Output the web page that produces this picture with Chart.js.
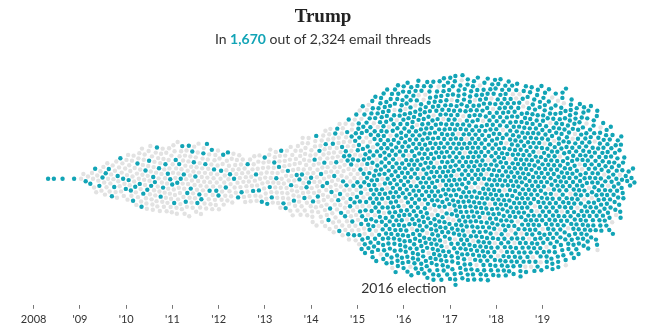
<!DOCTYPE html>
<html>
<head>
<meta charset="utf-8">
<script src="https://cdn.jsdelivr.net/npm/chart.js@4/dist/chart.umd.min.js"></script>
<style>
  body { margin: 0; background: #fff; }
  #wrap { position: relative; width: 646px; height: 334px; }
  #title { position: absolute; left: 0; top: 5px; width: 646px; text-align: center;
    font: bold 19px "Liberation Serif", serif; color: #222; line-height: 22px; }
  #sub { position: absolute; left: 0; top: 30px; width: 646px; text-align: center;
    font: 14px Lato, sans-serif; color: #333; line-height: 17px; }
  #sub b { color: #12a4b6; }
  canvas { position: absolute; left: 0; top: 0; }
</style>
</head>
<body>
<div id="wrap">
  <canvas id="myChart" width="646" height="334"></canvas>
  <div id="title">Trump</div>
  <div id="sub">In <b id="nTrump"></b> out of <span id="nAll"></span> email threads</div>
</div>
<script>
// threads per quarter, starting with 2008 Q1
var firstYear = 2008;
var totalThreads = [
  0, 2, 1, 1,      // 2008
  5, 11, 15, 17,   // 2009
  21, 26, 28, 29,  // 2010
  30, 30, 29, 26,  // 2011
  22, 20, 19, 20,  // 2012
  23, 26, 29, 33,  // 2013
  36, 42, 46, 52,  // 2014
  61, 67, 72, 77,  // 2015
  80, 82, 84, 86,  // 2016
  86, 87, 86, 84,  // 2017
  84, 82, 80, 77,  // 2018
  74, 71, 66, 61,  // 2019
  53, 44, 33, 8    // 2020
];
var trumpThreads = [
  0, 2, 1, 1,
  2, 3, 4, 4,
  5, 6, 6, 5,
  7, 7, 6, 5,
  5, 3, 2, 4,
  5, 5, 4, 5,
  7, 8, 12, 20,
  40, 55, 65, 72,
  73, 75, 77, 79,
  79, 80, 79, 77,
  77, 75, 74, 71,
  68, 65, 61, 56,
  49, 41, 30, 8
];
var tickYears = [2008, 2009, 2010, 2011, 2012, 2013, 2014, 2015, 2016, 2017, 2018, 2019];
var tickLabels = ["2008", "'09", "'10", "'11", "'12", "'13", "'14", "'15", "'16", "'17", "'18", "'19"];
var noteYear = 2016;
var noteText = "2016 election";

var teal = "#12a4b6";
var grey = "#e2e2e2";

function fmt(n) { return n.toLocaleString("en-US"); }
function sum(a) { return a.reduce(function (s, v) { return s + v; }, 0); }
document.getElementById("nTrump").textContent = fmt(sum(trumpThreads));
document.getElementById("nAll").textContent = fmt(sum(totalThreads));

var notePlugin = {
  id: "note",
  afterDatasetsDraw: function (chart) {
    var c = chart.ctx;
    c.save();
    c.font = "14px Lato, sans-serif";
    c.fillStyle = "#333";
    c.textAlign = "center";
    c.textBaseline = "middle";
    c.fillText(noteText, chart.scales.x.getPixelForValue(noteYear), 288);
    c.restore();
  }
};

const ctx = document.getElementById("myChart");
var chart = new Chart(ctx, {
  type: "scatter",
  data: {
    datasets: [
      { label: "Trump", data: [], backgroundColor: teal, pointRadius: 2.2, borderWidth: 0 },
      { label: "Other", data: [], backgroundColor: grey, pointRadius: 2.2, borderWidth: 0 }
    ]
  },
  options: {
    responsive: false,
    devicePixelRatio: 1,
    animation: false,
    events: [],
    layout: { padding: { left: 0, right: 0, top: 0, bottom: 4 } },
    plugins: { legend: { display: false }, tooltip: { enabled: false } },
    scales: {
      x: {
        type: "linear",
        min: 2008 - 30 / 46.85,
        max: 2008 + 616 / 46.85,
        afterBuildTicks: function (scale) {
          scale.ticks = tickYears.map(function (v) { return { value: v }; });
        },
        ticks: {
          autoSkip: false,
          maxRotation: 0,
          padding: 4,
          color: "#333",
          font: { family: "Lato", size: 11 },
          callback: function (value, index) { return tickLabels[index]; }
        },
        grid: { drawOnChartArea: false, tickLength: 4, tickColor: "#777" },
        border: { display: false }
      },
      y: { display: false, min: 0, max: 100 }
    }
  },
  plugins: [notePlugin]
});

// beeswarm: place each thread as close to the middle line as it can go
var xs = chart.scales.x, ys = chart.scales.y;
var centerY = 177, D = 5.35;
var pts = [];
for (var q = 0; q < totalThreads.length; q++) {
  var n = totalThreads[q], t = trumpThreads[q];
  for (var k = 0; k < n; k++) {
    var date = firstYear + q / 4 + (k + 0.5) / n / 4;
    var isT = Math.floor((k + 1) * t / n) > Math.floor(k * t / n);
    pts.push({ date: date, teal: isT, px: xs.getPixelForValue(date), dy: 0 });
  }
}
var placed = [];
pts.forEach(function (p) {
  var ivs = [];
  for (var j = placed.length - 1; j >= 0; j--) {
    var o = placed[j];
    var dx = p.px - o.px;
    if (dx >= D) break;
    var h = Math.sqrt(D * D - dx * dx);
    ivs.push([o.dy - h, o.dy + h]);
  }
  var cands = [0];
  ivs.forEach(function (iv) { cands.push(iv[0], iv[1]); });
  cands.sort(function (a, b) { return Math.abs(a) - Math.abs(b); });
  for (var i = 0; i < cands.length; i++) {
    var c = cands[i], ok = true;
    for (var m = 0; m < ivs.length; m++) {
      if (c > ivs[m][0] + 1e-6 && c < ivs[m][1] - 1e-6) { ok = false; break; }
    }
    if (ok) { p.dy = c; break; }
  }
  placed.push(p);
});

var tealPts = [], greyPts = [];
pts.forEach(function (p) {
  var pt = { x: p.date, y: ys.getValueForPixel(centerY + p.dy) };
  if (p.teal) tealPts.push(pt); else greyPts.push(pt);
});
chart.data.datasets[0].data = tealPts;
chart.data.datasets[1].data = greyPts;
chart.update("none");
</script>
</body>
</html>
